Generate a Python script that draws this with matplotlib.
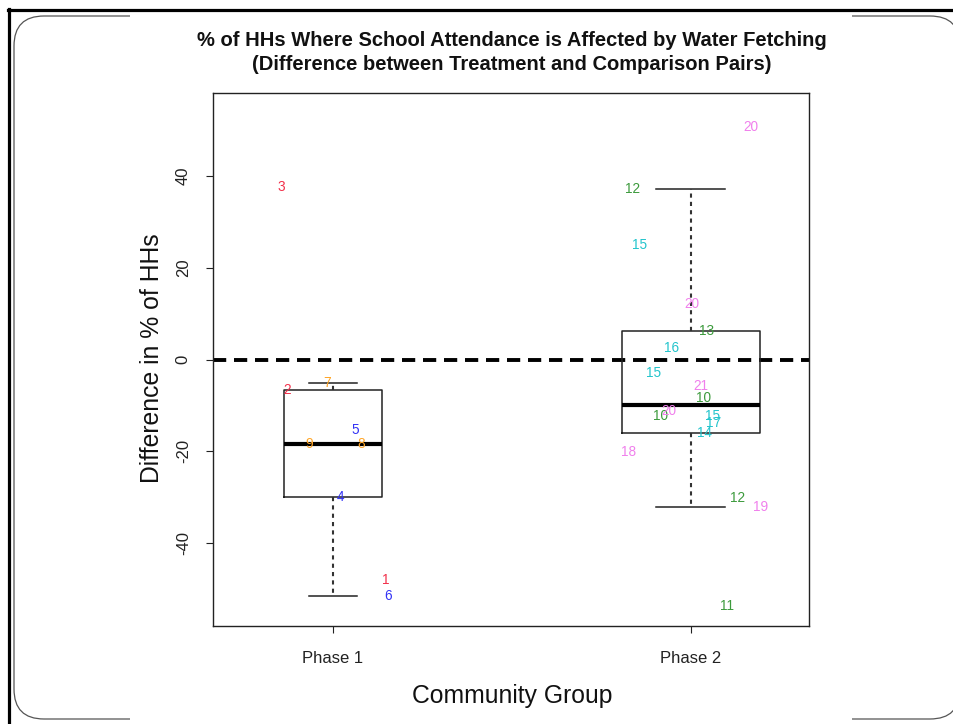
import matplotlib
matplotlib.use("Agg")
import matplotlib.pyplot as plt
import numpy as np
from matplotlib.patches import FancyBboxPatch, Rectangle
from matplotlib.lines import Line2D
from matplotlib.transforms import Affine2D

plt.rcParams['font.family'] = ['Liberation Sans', 'DejaVu Sans']

# ---- data -------------------------------------------------------------
groups = ["Phase 1", "Phase 2"]

p1_ids = [3, 2, 7, 5, 9, 8, 4, 1, 6]
p1_vals = [37.6, -6.7, -5.2, -15.4, -18.3, -18.3, -30.0, -48.0, -51.5]
p1_jitter = [0.855, 0.872, 0.983, 1.061, 0.933, 1.078, 1.020, 1.148, 1.154]

p2_ids = [20, 12, 15, 20, 13, 16, 15, 21, 10, 10, 20, 15, 17, 14, 18, 12, 19, 11]
p2_vals = [50.6, 37.2, 25.0, 12.0, 6.1, 2.6, -3.0, -5.7, -8.3, -12.4, -11.3,
           -12.2, -13.9, -16.0, -20.2, -30.2, -32.0, -53.7]
p2_jitter = [2.168, 1.838, 1.858, 2.003, 2.045, 1.947, 1.897, 2.028, 2.034,
             1.916, 1.939, 2.061, 2.064, 2.039, 1.827, 2.131, 2.196, 2.101]

# community id ranges -> label colour
id_colors = {1: "#f2304a", 2: "#f2304a", 3: "#f2304a",
             4: "#3232f5", 5: "#3232f5", 6: "#3232f5",
             7: "#ffa526", 8: "#ffa526", 9: "#ffa526",
             10: "#3c9a3c", 11: "#3c9a3c", 12: "#3c9a3c", 13: "#3c9a3c",
             14: "#22c4cc", 15: "#22c4cc", 16: "#22c4cc", 17: "#22c4cc",
             18: "#f080ec", 19: "#f080ec", 20: "#f080ec", 21: "#f080ec"}

yticks = [-40, -20, 0, 20, 40]


def fivenum(v):
    v = np.sort(np.asarray(v, float))
    n = len(v)
    n4 = np.floor((n + 3) / 2) / 2
    d = np.array([1, n4, (n + 1) / 2, n + 1 - n4, n]) - 1
    return 0.5 * (v[np.floor(d).astype(int)] + v[np.ceil(d).astype(int)])


def tukey_stats(v, label):
    mn, q1, med, q3, mx = fivenum(v)
    iqr = q3 - q1
    arr = np.asarray(v, float)
    inside = arr[(arr >= q1 - 1.5 * iqr) & (arr <= q3 + 1.5 * iqr)]
    return dict(med=med, q1=q1, q3=q3, whislo=inside.min(),
                whishi=inside.max(), fliers=[], label=label)


W, H = 954, 724
fig = plt.figure(figsize=(W / 100, H / 100), dpi=100)
# pixel coordinates with origin at top-left
T = Affine2D().scale(1, -1).translate(0, H).scale(1 / 100) + fig.dpi_scale_trans

# slide frame
frame = FancyBboxPatch((14, 16), 946, 703, boxstyle="round,pad=0,rounding_size=30",
                       facecolor="white", edgecolor="#555555", linewidth=0.9,
                       transform=T, zorder=0)
fig.patches.append(frame)
fig.patches.append(Rectangle((130, 13), 722, 709, facecolor="white",
                             edgecolor="none", transform=T, zorder=1))
fig.lines.append(Line2D([8.5, 8.5], [9, H], color="black", lw=2.3, transform=T, zorder=2))
fig.lines.append(Line2D([7.5, W], [10, 10], color="black", lw=2.3, transform=T, zorder=2))

ax = fig.add_axes([213 / W, 1 - 626 / H, 596 / W, 533 / H])
ax.set_zorder(3)

all_vals = [p1_vals, p2_vals]
stats = [tukey_stats(v, g) for v, g in zip(all_vals, groups)]
n = np.array([len(v) for v in all_vals])
widths = 0.385 * np.sqrt(n / n.max())

ax.bxp(stats, positions=[1, 2], widths=widths, showfliers=False,
       boxprops=dict(color="#222222", lw=1.1),
       medianprops=dict(color="black", lw=3.0, solid_capstyle="butt"),
       whiskerprops=dict(color="#333333", lw=1.5, linestyle=(0, (2.0, 2.0))),
       capprops=dict(color="#222222", lw=1.1),
       capwidths=widths / 2)

ax.axhline(0, color="black", lw=2.8, linestyle=(0, (3.4, 2.0)), zorder=1)

for ids, vals, xs in [(p1_ids, p1_vals, p1_jitter), (p2_ids, p2_vals, p2_jitter)]:
    for i, v, x in zip(ids, vals, xs):
        ax.text(x, v, str(i), color=id_colors[i], fontsize=9.8,
                ha="center", va="center", zorder=4)

ax.set_xlim(0.665, 2.33)
ax.set_ylim(-58, 58)
ax.set_xticks([1, 2])
ax.set_xticklabels(groups)
ax.set_yticks(yticks)
ax.set_yticklabels([str(t) for t in yticks], rotation=90, va="center")
ax.tick_params(axis="both", direction="out", length=5, width=0.8,
               colors="#222222", labelsize=12, labelcolor="#222222")
ax.tick_params(axis="x", pad=13)
ax.tick_params(axis="y", pad=11)
for s in ax.spines.values():
    s.set_color("#222222")
    s.set_linewidth(1.0)

fig.text(512 / W, 1 - 41 / H,
         "% of HHs Where School Attendance is Affected by Water Fetching",
         ha="center", va="center", fontsize=14.5, fontweight="bold", color="#111111")
fig.text(512 / W, 1 - 65 / H,
         "(Difference between Treatment and Comparison Pairs)",
         ha="center", va="center", fontsize=14.5, fontweight="bold", color="#111111")
fig.text(152 / W, 1 - 358 / H, "Difference in % of HHs", rotation=90,
         ha="center", va="center", fontsize=17.8, color="#111111")
fig.text(512 / W, 1 - 696 / H, "Community Group",
         ha="center", va="center", fontsize=17.8, color="#111111")

fig.savefig("out.png", dpi=100)
